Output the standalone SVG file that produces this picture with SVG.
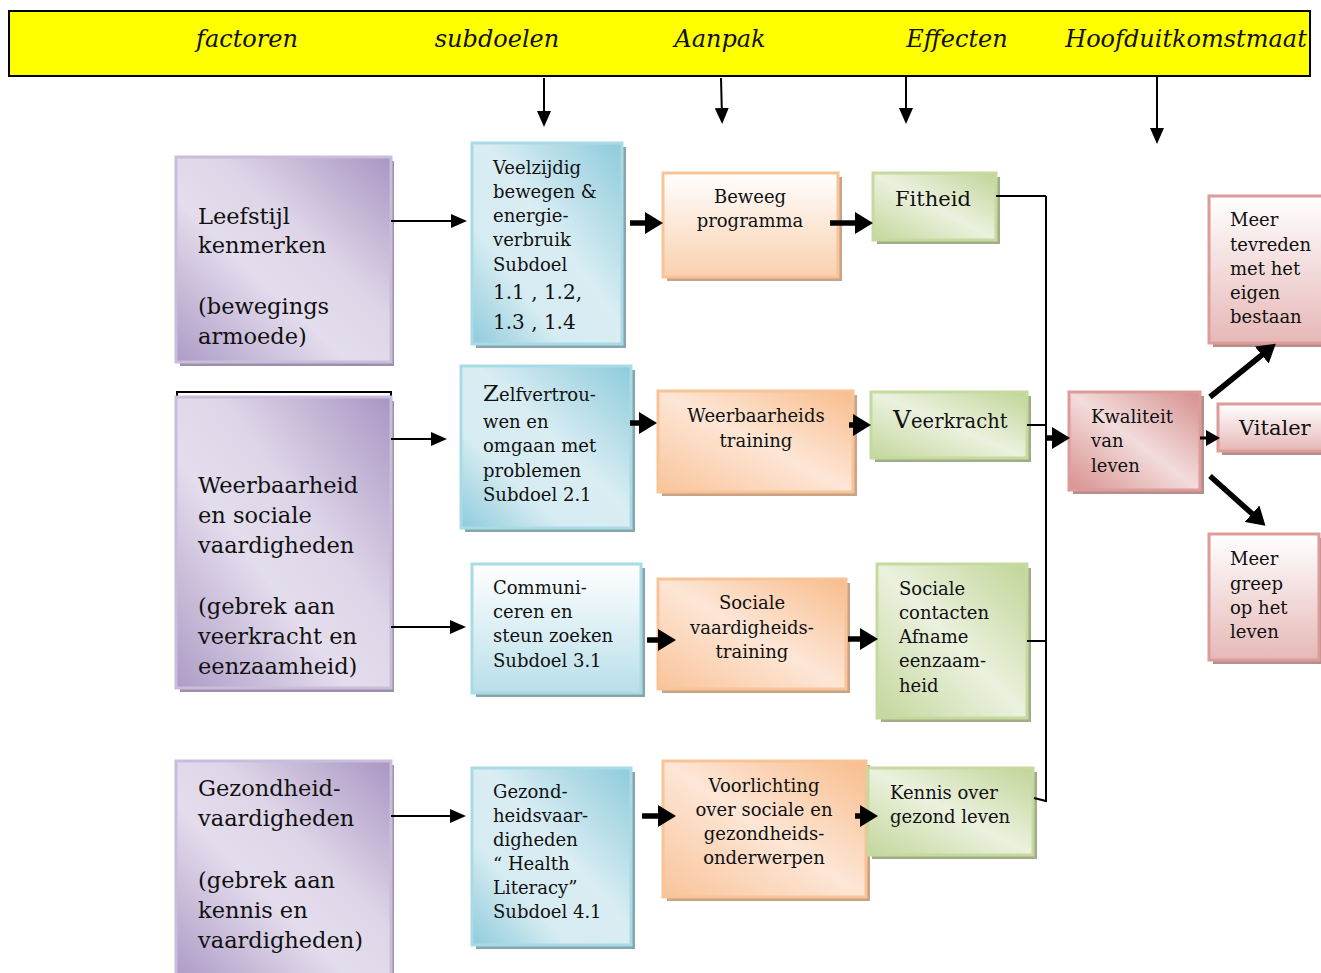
<svg xmlns="http://www.w3.org/2000/svg" width="1321" height="973" viewBox="0 0 1321 973">
<style>
text{font-family:"DejaVu Serif","Liberation Serif",serif;fill:#111}
.hdr{font-size:24px;font-style:italic;text-anchor:middle}
.big{font-size:22.5px}
.sm{font-size:18px}
.mid{text-anchor:middle}
.ln{stroke:#000;fill:none}
.thin{stroke-width:2}
.thick{stroke-width:5.5}
.pB{stroke:#c9bddb;stroke-width:3}
.bB{stroke:#a9dbe6;stroke-width:3}
.oB{stroke:#f8c396;stroke-width:3}
.gB{stroke:#c6da9f;stroke-width:3}
.rB{stroke:#dc9c9a;stroke-width:3}
.pS{fill:#9d90ad}
.bS{fill:#86a5ad}
.oS{fill:#c9a386}
.gS{fill:#a0ad88}
.rS{fill:#b88d8c}
</style>
<defs>
<linearGradient id="gP" x1="1" y1="0" x2="0" y2="1"><stop offset="0" stop-color="#a995c3"/><stop offset="0.4" stop-color="#ded6e8"/><stop offset="0.6" stop-color="#e4dded"/><stop offset="1" stop-color="#ad9bc6"/></linearGradient>
<linearGradient id="gBl" x1="1" y1="0" x2="0" y2="1"><stop offset="0" stop-color="#8ecbdb"/><stop offset="0.45" stop-color="#d9edf3"/><stop offset="0.7" stop-color="#d6ecf2"/><stop offset="1" stop-color="#8fcbdb"/></linearGradient>
<linearGradient id="gBv" x1="0" y1="0" x2="0" y2="1"><stop offset="0" stop-color="#ffffff"/><stop offset="1" stop-color="#b9dfe9"/></linearGradient>
<linearGradient id="gOv" x1="0" y1="0" x2="0" y2="1"><stop offset="0" stop-color="#ffffff"/><stop offset="1" stop-color="#f9d0ae"/></linearGradient>
<linearGradient id="gO" x1="1" y1="0" x2="0" y2="1"><stop offset="0" stop-color="#f8bd8c"/><stop offset="0.5" stop-color="#fde6d6"/><stop offset="1" stop-color="#f9c49a"/></linearGradient>
<linearGradient id="gG" x1="1" y1="0" x2="0" y2="1"><stop offset="0" stop-color="#c0d597"/><stop offset="0.5" stop-color="#ebf1de"/><stop offset="1" stop-color="#c3d79c"/></linearGradient>
<linearGradient id="gR" x1="1" y1="0" x2="0" y2="1"><stop offset="0" stop-color="#d68f8d"/><stop offset="0.5" stop-color="#f2dcdb"/><stop offset="1" stop-color="#d8908e"/></linearGradient>
<linearGradient id="gRv" x1="0" y1="0" x2="0" y2="1"><stop offset="0" stop-color="#ffffff"/><stop offset="1" stop-color="#e6b8b7"/></linearGradient>
<marker id="ah" markerUnits="userSpaceOnUse" markerWidth="16" markerHeight="14" refX="10" refY="7" orient="auto"><path d="M0,0 L16,7 L0,14 z" fill="#000"/></marker>
<marker id="ahT" markerUnits="userSpaceOnUse" markerWidth="18" markerHeight="22" refX="8" refY="11" orient="auto"><path d="M0,0 L18,11 L0,22 z" fill="#000"/></marker>
<marker id="ahM" markerUnits="userSpaceOnUse" markerWidth="14" markerHeight="16" refX="7" refY="8" orient="auto"><path d="M0,0 L14,8 L0,16 z" fill="#000"/></marker>
</defs>

<g id="header">
<rect x="9" y="11" width="1301" height="65" fill="#ffff00" stroke="#000" stroke-width="2"/>
<text class="hdr" x="247" y="47">factoren</text>
<text class="hdr" x="497" y="47">subdoelen</text>
<text class="hdr" x="720" y="47">Aanpak</text>
<text class="hdr" x="957" y="47">Effecten</text>
<text class="hdr" x="1186" y="47">Hoofduitkomstmaat</text>
</g>

<g id="n-leefstijl">
<rect class="pS" x="180" y="161" width="214" height="205"/>
<rect class="pB" x="176" y="157" width="215" height="205" fill="url(#gP)"/>
<text class="big" x="198"><tspan x="198" y="224">Leefstijl</tspan><tspan x="198" y="253">kenmerken</tspan><tspan x="198" y="314">(bewegings</tspan><tspan x="198" y="344">armoede)</tspan></text>
</g>

<g id="n-weerbaarheid">
<path class="ln thin" d="M177,397 V392 H391 V397"/>
<rect class="pS" x="180" y="401" width="214" height="291"/>
<rect class="pB" x="176" y="397" width="215" height="291" fill="url(#gP)"/>
<text class="big" x="198"><tspan x="198" y="493">Weerbaarheid</tspan><tspan x="198" y="523">en sociale</tspan><tspan x="198" y="553">vaardigheden</tspan><tspan x="198" y="614">(gebrek aan</tspan><tspan x="198" y="644">veerkracht en</tspan><tspan x="198" y="674">eenzaamheid)</tspan></text>
</g>

<g id="n-gezondheid">
<rect class="pS" x="180" y="765" width="214" height="215"/>
<rect class="pB" x="176" y="761" width="215" height="215" fill="url(#gP)"/>
<text class="big" x="198"><tspan x="198" y="796">Gezondheid-</tspan><tspan x="198" y="826">vaardigheden</tspan><tspan x="198" y="888">(gebrek aan</tspan><tspan x="198" y="918">kennis en</tspan><tspan x="198" y="948">vaardigheden)</tspan></text>
</g>

<g id="n-subdoel1">
<rect class="bS" x="476" y="147" width="150" height="201"/>
<rect class="bB" x="472" y="143" width="150" height="201" fill="url(#gBl)"/>
<text class="sm" x="493"><tspan x="493" y="174">Veelzijdig</tspan><tspan x="493" y="198">bewegen &amp;</tspan><tspan x="493" y="222">energie-</tspan><tspan x="493" y="246">verbruik</tspan><tspan x="493" y="271">Subdoel</tspan><tspan x="493" y="299" font-size="20">1.1 , 1.2,</tspan><tspan x="493" y="329" font-size="20">1.3 , 1.4</tspan></text>
</g>

<g id="n-subdoel2">
<rect class="bS" x="465" y="370" width="170" height="162"/>
<rect class="bB" x="461" y="366" width="170" height="162" fill="url(#gBl)"/>
<text class="sm" x="483"><tspan x="483" y="401" font-size="23">Z</tspan><tspan y="401">elfvertrou-</tspan><tspan x="483" y="428">wen en</tspan><tspan x="483" y="452">omgaan met</tspan><tspan x="483" y="477">problemen</tspan><tspan x="483" y="501">Subdoel 2.1</tspan></text>
</g>

<g id="n-subdoel3">
<rect class="bS" x="476" y="568" width="169" height="129"/>
<rect class="bB" x="472" y="564" width="169" height="129" fill="url(#gBv)"/>
<text class="sm" x="493"><tspan x="493" y="594">Communi-</tspan><tspan x="493" y="618">ceren en</tspan><tspan x="493" y="642">steun zoeken</tspan><tspan x="493" y="667">Subdoel 3.1</tspan></text>
</g>

<g id="n-subdoel4">
<rect class="bS" x="476" y="772" width="159" height="177"/>
<rect class="bB" x="472" y="768" width="159" height="177" fill="url(#gBl)"/>
<text class="sm" x="493"><tspan x="493" y="798">Gezond-</tspan><tspan x="493" y="822">heidsvaar-</tspan><tspan x="493" y="846">digheden</tspan><tspan x="493" y="870">“ Health</tspan><tspan x="493" y="894">Literacy”</tspan><tspan x="493" y="918">Subdoel 4.1</tspan></text>
</g>

<g id="n-beweeg">
<rect class="oS" x="667" y="177" width="175" height="104"/>
<rect class="oB" x="663" y="173" width="175" height="104" fill="url(#gOv)"/>
<text class="sm mid"><tspan x="750" y="203">Beweeg</tspan><tspan x="750" y="227">programma</tspan></text>
</g>

<g id="n-weerbaarheidstraining">
<rect class="oS" x="662" y="395" width="195" height="101"/>
<rect class="oB" x="658" y="391" width="195" height="101" fill="url(#gO)"/>
<text class="sm mid"><tspan x="756" y="422">Weerbaarheids</tspan><tspan x="756" y="447">training</tspan></text>
</g>

<g id="n-socialetraining">
<rect class="oS" x="662" y="583" width="188" height="110"/>
<rect class="oB" x="658" y="579" width="188" height="110" fill="url(#gO)"/>
<text class="sm mid"><tspan x="752" y="609">Sociale</tspan><tspan x="752" y="634">vaardigheids-</tspan><tspan x="752" y="658">training</tspan></text>
</g>

<g id="n-voorlichting">
<rect class="oS" x="667" y="765" width="203" height="136"/>
<rect class="oB" x="663" y="761" width="203" height="136" fill="url(#gO)"/>
<text class="sm mid"><tspan x="764" y="792">Voorlichting</tspan><tspan x="764" y="816">over sociale en</tspan><tspan x="764" y="840">gezondheids-</tspan><tspan x="764" y="864">onderwerpen</tspan></text>
</g>

<g id="n-fitheid">
<rect class="gS" x="877" y="177" width="123" height="67"/>
<rect class="gB" x="873" y="173" width="123" height="67" fill="url(#gG)"/>
<text x="895" y="206" font-size="21">Fitheid</text>
</g>

<g id="n-veerkracht">
<rect class="gS" x="875" y="396" width="156" height="66"/>
<rect class="gB" x="871" y="392" width="156" height="66" fill="url(#gG)"/>
<text x="893" y="428" font-size="19.5"><tspan font-size="25">V</tspan>eerkracht</text>
</g>

<g id="n-socialecontacten">
<rect class="gS" x="881" y="568" width="150" height="154"/>
<rect class="gB" x="877" y="564" width="150" height="154" fill="url(#gG)"/>
<text class="sm" x="899"><tspan x="899" y="595">Sociale</tspan><tspan x="899" y="619">contacten</tspan><tspan x="899" y="643">Afname</tspan><tspan x="899" y="667">eenzaam-</tspan><tspan x="899" y="692">heid</tspan></text>
</g>

<g id="n-kennis">
<rect class="gS" x="872" y="772" width="165" height="87"/>
<rect class="gB" x="868" y="768" width="165" height="87" fill="url(#gG)"/>
<text class="sm" x="890"><tspan x="890" y="799">Kennis over</tspan><tspan x="890" y="823">gezond leven</tspan></text>
</g>

<g id="n-kwaliteit">
<rect class="rS" x="1073" y="396" width="131" height="98"/>
<rect class="rB" x="1069" y="392" width="131" height="98" fill="url(#gR)"/>
<text class="sm" x="1091"><tspan x="1091" y="423">Kwaliteit</tspan><tspan x="1091" y="447">van</tspan><tspan x="1091" y="472">leven</tspan></text>
</g>

<g id="n-tevreden">
<rect class="rS" x="1213" y="200" width="112" height="147"/>
<rect class="rB" x="1209" y="196" width="114" height="147" fill="url(#gRv)"/>
<text class="sm" x="1230"><tspan x="1230" y="226">Meer</tspan><tspan x="1230" y="251">tevreden</tspan><tspan x="1230" y="275">met het</tspan><tspan x="1230" y="299">eigen</tspan><tspan x="1230" y="323">bestaan</tspan></text>
</g>

<g id="n-vitaler">
<rect class="rS" x="1222" y="408" width="103" height="47"/>
<rect class="rB" x="1218" y="404" width="105" height="47" fill="url(#gRv)"/>
<text x="1239" y="435" font-size="21">Vitaler</text>
</g>

<g id="n-greep">
<rect class="rS" x="1213" y="538" width="110" height="126"/>
<rect class="rB" x="1209" y="534" width="110" height="126" fill="url(#gRv)"/>
<text class="sm" x="1230"><tspan x="1230" y="565">Meer</tspan><tspan x="1230" y="590">greep</tspan><tspan x="1230" y="614">op het</tspan><tspan x="1230" y="638">leven</tspan></text>
</g>

<g id="connectors">
<line class="ln thin" x1="544" y1="78" x2="544" y2="121" marker-end="url(#ah)"/>
<line class="ln thin" x1="721" y1="78" x2="722" y2="118" marker-end="url(#ah)"/>
<line class="ln thin" x1="906" y1="76" x2="906" y2="118" marker-end="url(#ah)"/>
<line class="ln thin" x1="1157" y1="76" x2="1157" y2="138" marker-end="url(#ah)"/>

<line class="ln thin" x1="391" y1="221" x2="461" y2="221" marker-end="url(#ah)"/>
<line class="ln thin" x1="391" y1="439" x2="441" y2="439" marker-end="url(#ah)"/>
<line class="ln thin" x1="391" y1="627" x2="460" y2="627" marker-end="url(#ah)"/>
<line class="ln thin" x1="391" y1="816" x2="460" y2="816" marker-end="url(#ah)"/>

<line class="ln thick" x1="630" y1="223" x2="653" y2="223" marker-end="url(#ahT)"/>
<line class="ln thick" x1="830" y1="223" x2="863" y2="223" marker-end="url(#ahT)"/>
<line class="ln thick" x1="630" y1="423" x2="647" y2="423" marker-end="url(#ahT)"/>
<line class="ln thick" x1="849" y1="425" x2="861" y2="425" marker-end="url(#ahT)"/>
<line class="ln thick" x1="647" y1="640" x2="666" y2="640" marker-end="url(#ahT)"/>
<line class="ln thick" x1="848" y1="639" x2="868" y2="639" marker-end="url(#ahT)"/>
<line class="ln thick" x1="642" y1="816" x2="666" y2="816" marker-end="url(#ahT)"/>
<line class="ln thick" x1="855" y1="816" x2="868" y2="816" marker-end="url(#ahT)"/>

<line class="ln thin" x1="1046" y1="196" x2="1046" y2="802"/>
<line class="ln thin" x1="996" y1="196" x2="1046" y2="196"/>
<line class="ln thin" x1="1027" y1="425" x2="1046" y2="425"/>
<line class="ln thin" x1="1027" y1="641" x2="1046" y2="641"/>
<line class="ln thin" x1="1034" y1="798" x2="1046" y2="801"/>

<line class="ln thick" x1="1046" y1="438" x2="1060" y2="438" marker-end="url(#ahT)"/>
<line class="ln" stroke-width="3" x1="1200" y1="438" x2="1213" y2="438" marker-end="url(#ahM)"/>
<line class="ln thick" x1="1210" y1="397" x2="1268" y2="350" marker-end="url(#ahT)"/>
<line class="ln thick" x1="1210" y1="476" x2="1258" y2="519" marker-end="url(#ahT)"/>
</g>
</svg>
